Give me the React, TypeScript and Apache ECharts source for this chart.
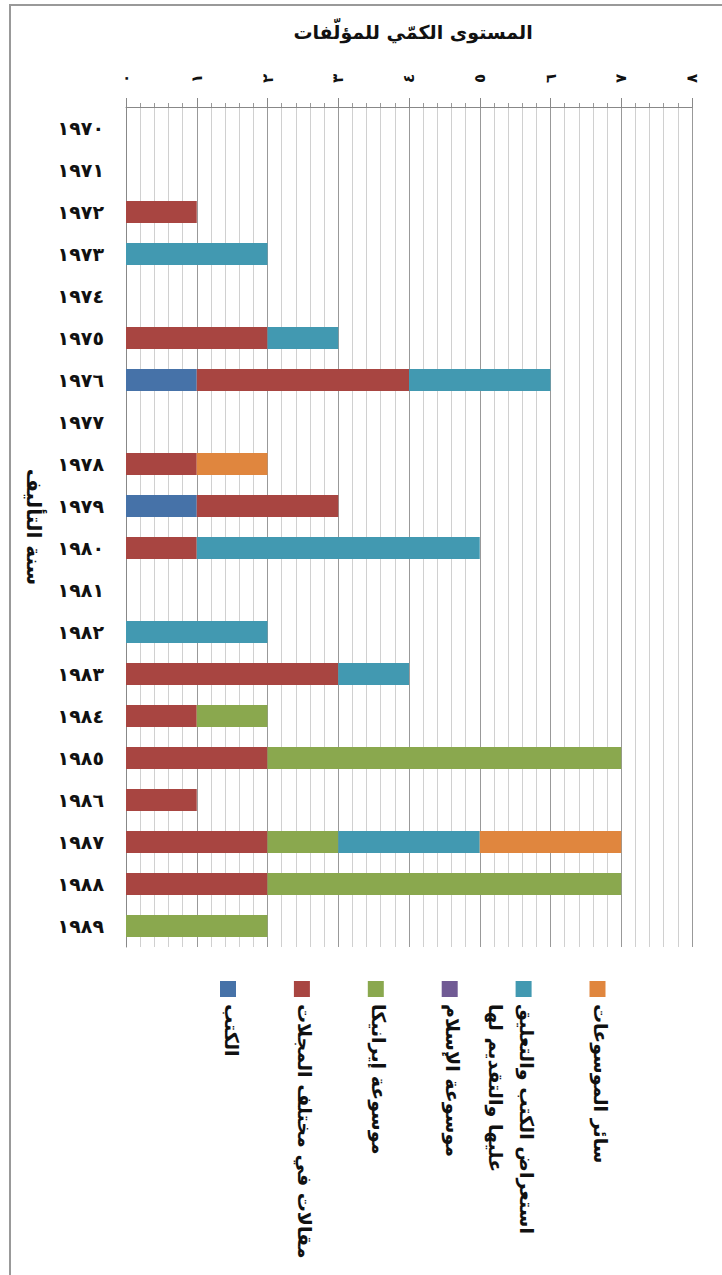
import React, { useEffect, useRef } from 'react';
import * as echarts from 'echarts';

const chartTitle = 'المستوى الكمّي للمؤلّفات';
const yAxisName = 'سنة التأليف';
const years = [
  '١٩٧٠', '١٩٧١', '١٩٧٢', '١٩٧٣', '١٩٧٤', '١٩٧٥', '١٩٧٦', '١٩٧٧', '١٩٧٨', '١٩٧٩',
  '١٩٨٠', '١٩٨١', '١٩٨٢', '١٩٨٣', '١٩٨٤', '١٩٨٥', '١٩٨٦', '١٩٨٧', '١٩٨٨', '١٩٨٩',
];
const tickLabels = ['٠', '١', '٢', '٣', '٤', '٥', '٦', '٧', '٨'];

const seriesNames = [
  'الكتب',
  'مقالات في مختلف المجلات',
  'موسوعة إيرانيكا',
  'موسوعة الإسلام',
  'استعراض الكتب والتعليق\nعليها والتقديم لها',
  'سائر الموسوعات',
];
const seriesColors = ['#4672A8', '#A84541', '#8AA84E', '#705A94', '#4299B1', '#E0863E'];

const books = [0, 0, 0, 0, 0, 0, 1, 0, 0, 1, 0, 0, 0, 0, 0, 0, 0, 0, 0, 0];
const articles = [0, 0, 1, 0, 0, 2, 3, 0, 1, 2, 1, 0, 0, 3, 1, 2, 1, 2, 2, 0];
const iranica = [0, 0, 0, 0, 0, 0, 0, 0, 0, 0, 0, 0, 0, 0, 1, 5, 0, 1, 5, 2];
const islam = [0, 0, 0, 0, 0, 0, 0, 0, 0, 0, 0, 0, 0, 0, 0, 0, 0, 0, 0, 0];
const reviews = [0, 0, 0, 2, 0, 1, 2, 0, 0, 0, 4, 0, 2, 1, 0, 0, 0, 2, 0, 0];
const otherEncyclopedias = [0, 0, 0, 0, 0, 0, 0, 0, 1, 0, 0, 0, 0, 0, 0, 0, 0, 2, 0, 0];

const seriesData = [books, articles, iranica, islam, reviews, otherEncyclopedias];

const FONT = 'DejaVu Sans';

export default function App() {
  const ref = useRef<HTMLDivElement>(null);
  useEffect(() => {
    const chart = echarts.init(ref.current!, null, { renderer: 'svg' });

    const legendElements: any[] = [];
    seriesNames.forEach((name, i) => {
      const cx = 228 + i * 73.9;
      legendElements.push({
        type: 'rect',
        shape: { x: cx - 8, y: 981, width: 16, height: 16 },
        style: { fill: seriesColors[i] },
      });
      legendElements.push({
        type: 'text',
        x: cx + 19,
        y: 1004,
        rotation: -Math.PI / 2,
        style: {
          text: name,
          align: 'left',
          verticalAlign: 'top',
          fontSize: 19,
          fontWeight: 'bold',
          lineHeight: 31,
          fill: '#111',
          fontFamily: FONT,
        },
      });
    });

    const option: any = {
      animation: false,
      backgroundColor: '#fff',
      title: {
        text: chartTitle,
        left: 408,
        top: 17,
        textAlign: 'center',
        textStyle: { fontSize: 19, fontWeight: 'bold', color: '#111', fontFamily: FONT },
      },
      grid: { left: 126, right: 30, top: 107, bottom: 328, containLabel: false },
      xAxis: {
        type: 'value',
        position: 'top',
        min: 0,
        max: 8,
        interval: 1,
        axisLine: { show: true, lineStyle: { color: '#888', width: 1 } },
        axisTick: { show: true, length: 9, lineStyle: { color: '#888' } },
        minorTick: { show: true, splitNumber: 5, length: 4, lineStyle: { color: '#999' } },
        splitLine: { show: true, lineStyle: { color: '#999', width: 1 } },
        minorSplitLine: { show: true, lineStyle: { color: '#d0d0d0', width: 1 } },
        axisLabel: {
          rotate: -90,
          margin: 24,
          formatter: (v: number) => tickLabels[Math.round(v)],
          fontSize: 15,
          fontWeight: 'bold',
          color: '#111',
          fontFamily: FONT,
        },
      },
      yAxis: {
        type: 'category',
        inverse: true,
        data: years,
        axisLine: { show: true, lineStyle: { color: '#888', width: 1 } },
        axisTick: { show: false },
        splitLine: { show: false },
        axisLabel: { fontSize: 19, fontWeight: 'bold', color: '#111', margin: 22, fontFamily: FONT },
        name: yAxisName,
        nameLocation: 'middle',
        nameRotate: -90,
        nameGap: 82,
        nameTextStyle: { fontSize: 20, fontWeight: 'bold', color: '#111', fontFamily: FONT },
      },
      series: seriesData.map((d, i) => ({
        type: 'bar',
        name: seriesNames[i],
        stack: 'total',
        data: d,
        barWidth: 22,
        itemStyle: { color: seriesColors[i] },
      })),
      graphic: [
        {
          type: 'rect',
          shape: { x: 10, y: 5, width: 760, height: 1320 },
          style: { fill: 'none', stroke: '#999', lineWidth: 2 },
          silent: true,
        },
        ...legendElements,
      ],
    };
    chart.setOption(option);
    return () => chart.dispose();
  }, []);
  return (
    <div
      ref={ref}
      style={{ position: 'absolute', left: 0, top: 0, width: 722, height: 1275, background: '#fff' }}
    />
  );
}
